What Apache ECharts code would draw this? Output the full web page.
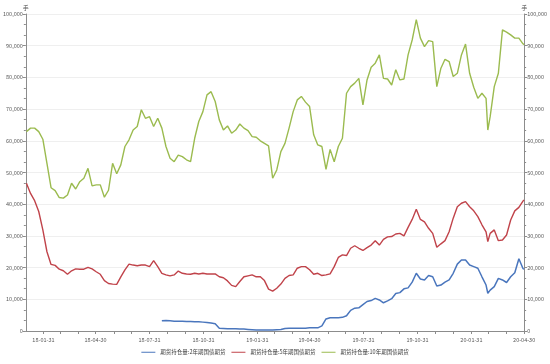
<!DOCTYPE html>
<html>
<head>
<meta charset="utf-8">
<script src="https://cdn.jsdelivr.net/npm/echarts@6/dist/echarts.min.js"></script>
<style>html,body{margin:0;padding:0;background:#fff;}#c{width:550px;height:364px;}</style>
</head>
<body>
<div id="c"></div>
<script>
// Weekly sample dates (plus one extra at a visible spike and the final day)
const dates = [
'2018-01-02','2018-01-09','2018-01-16','2018-01-23','2018-01-30','2018-02-06','2018-02-13','2018-02-20','2018-02-27','2018-03-06',
'2018-03-13','2018-03-20','2018-03-27','2018-04-03','2018-04-10','2018-04-17','2018-04-24','2018-05-01','2018-05-08','2018-05-15',
'2018-05-22','2018-05-29','2018-06-05','2018-06-12','2018-06-19','2018-06-26','2018-07-03','2018-07-10','2018-07-17','2018-07-24',
'2018-07-31','2018-08-07','2018-08-14','2018-08-21','2018-08-28','2018-09-04','2018-09-11','2018-09-18','2018-09-25','2018-10-02',
'2018-10-09','2018-10-16','2018-10-23','2018-10-30','2018-11-06','2018-11-13','2018-11-20','2018-11-27','2018-12-04','2018-12-11',
'2018-12-18','2018-12-25','2019-01-01','2019-01-08','2019-01-15','2019-01-22','2019-01-29','2019-02-05','2019-02-12','2019-02-19',
'2019-02-26','2019-03-05','2019-03-12','2019-03-19','2019-03-26','2019-04-02','2019-04-09','2019-04-16','2019-04-23','2019-04-30',
'2019-05-07','2019-05-14','2019-05-21','2019-05-28','2019-06-04','2019-06-11','2019-06-18','2019-06-25','2019-07-02','2019-07-09',
'2019-07-16','2019-07-23','2019-07-30','2019-08-06','2019-08-13','2019-08-20','2019-08-27','2019-09-03','2019-09-10','2019-09-17',
'2019-09-24','2019-10-01','2019-10-08','2019-10-15','2019-10-22','2019-10-29','2019-11-05','2019-11-12','2019-11-19','2019-11-26',
'2019-12-03','2019-12-10','2019-12-17','2019-12-24','2019-12-31','2020-01-07','2020-01-14','2020-01-21','2020-01-28','2020-02-04',
'2020-02-11','2020-02-18','2020-02-25','2020-02-28','2020-03-03','2020-03-10','2020-03-17','2020-03-24','2020-03-31','2020-04-07',
'2020-04-14','2020-04-21','2020-04-28','2020-04-30'
];

const seriesNames = ['期货持仓量:2年期国债期货', '期货持仓量:5年期国债期货', '期货持仓量:10年期国债期货'];

const oi2y = [
null,null,null,null,null,null,null,null,null,null,
null,null,null,null,null,null,null,null,null,null,
null,null,null,null,null,null,null,null,null,null,
null,null,null,
3200,3300,3200,3100,3100,3100,3000,3000,2900,2900,2800,2700,2500,2300,
900,800,700,700,700,600,600,500,400,300,300,300,300,300,
400,500,800,900,900,900,900,900,1000,1000,1000,1600,3800,4200,4200,4200,4300,4800,6500,7200,7300,
8300,9300,9600,10300,9800,8900,9500,10200,11800,12100,13300,13600,15400,18200,16400,16100,17500,17100,14200,14500,15400,16100,
18200,21100,22400,22400,20800,20300,19800,17100,14500,
11900,
12900,14000,16600,16100,15300,17100,18400,22800,19700,19500
];

const oi5y = [
46600,43400,41100,37700,31900,25000,21000,20700,19500,19000,17900,19000,19600,19500,19500,20100,19600,18700,17900,15900,15000,
14800,14700,17100,19300,21100,20800,20600,20800,20800,20300,22200,20300,18200,17700,17400,17700,18900,18200,18000,17900,
18200,18000,18200,18000,18000,18000,17100,16800,15800,14400,14000,15600,17100,17400,17700,17100,17100,15900,13200,12600,
13500,14800,16600,17500,17700,19800,20300,20300,19300,17900,18200,17500,17700,18000,20300,23200,24000,23800,26100,26900,26100,
25400,26300,27100,28500,27100,28900,29700,29800,30600,30800,30000,32700,35200,38400,35200,34400,32400,30800,26400,27500,28500,31300,
35600,39200,40300,40800,39200,37900,36100,33500,31300,
28200,
30800,31900,28500,28700,30300,35000,37900,39000,41000,41300
];

const oi10y = [
62900,64000,64000,62900,60500,52900,45200,44300,42100,41900,42900,46600,44800,47100,48200,51300,45800,46100,46100,42200,44400,
52900,49600,52400,58200,60300,63400,64500,69800,67100,67600,64500,67100,64000,58200,54500,53400,55500,55000,54000,53400,
60800,66100,69200,74500,75500,72400,66600,63400,64700,62400,63400,65300,64000,63200,61300,61100,60000,59200,58400,48200,
50800,56600,59200,64000,69200,72900,74000,72200,70800,61900,58700,58200,51000,57300,53400,58200,60800,75000,77100,78200,79700,
71300,79200,83200,84500,87100,79700,79500,77600,82400,79200,79500,87100,91800,98200,92400,89700,91600,91300,77100,82900,85700,85000,
80300,81300,87100,90500,81300,76900,73400,75000,73400,
63400,
67600,77100,81300,95000,94300,93400,92400,92400,90600,90300
];

const xLabelDates = ['2018-01-31','2018-04-30','2018-07-31','2018-10-31','2019-01-31','2019-04-30','2019-07-31','2019-10-31','2020-01-31','2020-04-30'];
const xTickDates = [
'2018-01-31','2018-02-28','2018-03-31','2018-04-30','2018-05-31','2018-06-30','2018-07-31','2018-08-31','2018-09-30','2018-10-31','2018-11-30','2018-12-31',
'2019-01-31','2019-02-28','2019-03-31','2019-04-30','2019-05-31','2019-06-30','2019-07-31','2019-08-31','2019-09-30','2019-10-31','2019-11-30','2019-12-31',
'2020-01-31','2020-02-29','2020-03-31','2020-04-30'
];

const colors = ['#4a76bd', '#c0434a', '#9bbb4f'];
const ts = s => { const p = s.split('-').map(Number); return Date.UTC(p[0], p[1] - 1, p[2]); };
const fmt = v => { const d = new Date(v); const z = n => String(n).padStart(2, '0'); return z(d.getUTCFullYear() % 100) + '-' + z(d.getUTCMonth() + 1) + '-' + z(d.getUTCDate()); };
const pair = arr => dates.map((d, i) => [ts(d), arr[i]]).filter(p => p[1] != null);

const font = '"Noto Sans CJK SC", "Liberation Sans", sans-serif';
const axisCol = '#8c8c8c';
const labelCol = '#595959';

function yAxis(pos) {
  return {
    type: 'value', position: pos, min: 0, max: 100000, interval: 10000,
    name: '手', nameLocation: 'end', nameGap: 3,
    nameTextStyle: { fontSize: 6, color: labelCol, fontFamily: font },
    axisLine: { show: true, lineStyle: { color: axisCol, width: 1 } },
    axisTick: { show: true, length: 3, lineStyle: { color: axisCol } },
    minorTick: { show: true, splitNumber: 3, length: 2, lineStyle: { color: axisCol } },
    axisLabel: { fontSize: 5.5, color: labelCol, margin: 3, fontFamily: font },
    splitLine: { show: pos === 'left', lineStyle: { color: '#efefef', width: 1 } }
  };
}

const chart = echarts.init(document.getElementById('c'), null, { renderer: 'canvas' });
chart.setOption({
  animation: false,
  backgroundColor: '#fff',
  grid: { left: 22, right: 23, top: 14, bottom: 33 },
  legend: {
    bottom: 4, left: 'center', itemWidth: 14, itemHeight: 6, itemGap: 6,
    data: seriesNames.map(n => ({ name: n, icon: 'path://M0,2.5L14,2.5L14,3.5L0,3.5Z' })),
    textStyle: { fontSize: 5.5, color: '#404040', fontFamily: font }
  },
  xAxis: {
    type: 'value',
    min: ts('2018-01-01'), max: ts('2020-04-30'),
    axisLine: { show: true, onZero: false, lineStyle: { color: axisCol } },
    axisTick: { show: true, length: 3, customValues: xTickDates.map(ts), lineStyle: { color: axisCol } },
    axisLabel: {
      fontSize: 5.5, color: labelCol, margin: 6, fontFamily: font,
      customValues: xLabelDates.map(ts), showMaxLabel: true, showMinLabel: true,
      formatter: v => fmt(v)
    },
    splitLine: { show: false }
  },
  yAxis: [yAxis('left'), yAxis('right')],
  series: [
    { name: seriesNames[0], type: 'line', data: pair(oi2y), showSymbol: false, symbol: 'none', lineStyle: { width: 1.5, color: colors[0] }, itemStyle: { color: colors[0] }, z: 3 },
    { name: seriesNames[1], type: 'line', data: pair(oi5y), showSymbol: false, symbol: 'none', lineStyle: { width: 1.4, color: colors[1] }, itemStyle: { color: colors[1] }, z: 3 },
    { name: seriesNames[2], type: 'line', data: pair(oi10y), showSymbol: false, symbol: 'none', lineStyle: { width: 1.4, color: colors[2] }, itemStyle: { color: colors[2] }, z: 3 }
  ]
});
</script>
</body>
</html>
